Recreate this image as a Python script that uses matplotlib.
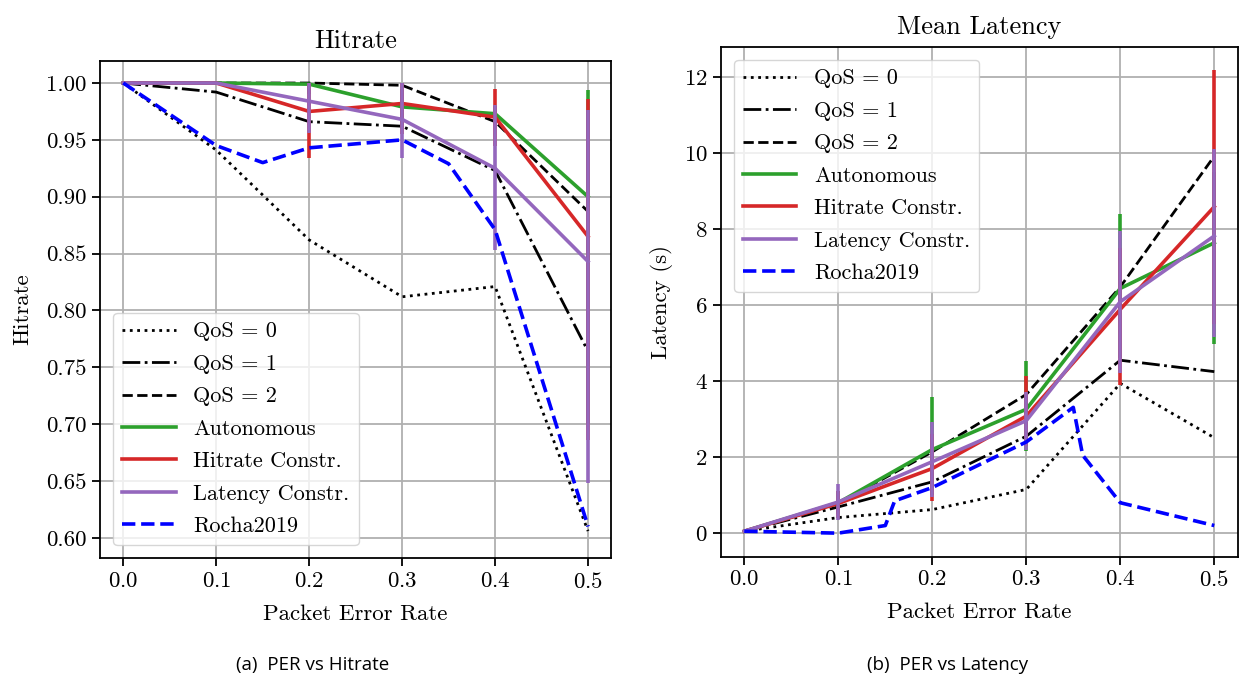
import matplotlib
matplotlib.use("Agg")
import matplotlib.pyplot as plt
import numpy as np

plt.rcParams['font.family'] = 'cmr10'
plt.rcParams['mathtext.fontset'] = 'cm'
plt.rcParams['axes.formatter.use_mathtext'] = True

# packet error rates
per = [0.0, 0.1, 0.2, 0.3, 0.4, 0.5]

# --- hitrate panel ---
hit_qos0 = [1.0, 0.941, 0.862, 0.812, 0.821, 0.606]
hit_qos1 = [1.0, 0.992, 0.966, 0.962, 0.923, 0.764]
hit_qos2 = [1.0, 1.0, 1.0, 0.998, 0.966, 0.887]
hit_auto = [1.0, 1.0, 0.999, 0.979, 0.973, 0.900]
hit_auto_lo = [1.0, 1.0, 0.99, 0.96, 0.965, 0.70]
hit_auto_hi = [1.0, 1.0, 1.0, 0.995, 0.98, 0.994]
hit_hitc = [1.0, 1.0, 0.975, 0.982, 0.970, 0.865]
hit_hitc_lo = [1.0, 1.0, 0.934, 0.955, 0.945, 0.686]
hit_hitc_hi = [1.0, 1.0, 1.0, 1.0, 0.995, 0.986]
hit_latc = [1.0, 1.0, 0.984, 0.968, 0.925, 0.843]
hit_latc_lo = [1.0, 1.0, 0.956, 0.934, 0.853, 0.648]
hit_latc_hi = [1.0, 1.0, 1.0, 1.0, 0.981, 0.976]
rocha_hit_per = [0.0, 0.1, 0.15, 0.2, 0.3, 0.35, 0.4, 0.5]
rocha_hit = [1.0, 0.945, 0.930, 0.943, 0.950, 0.929, 0.871, 0.610]

# --- latency panel ---
lat_qos0 = [0.05, 0.41, 0.62, 1.15, 3.94, 2.51]
lat_qos1 = [0.05, 0.69, 1.35, 2.55, 4.55, 4.25]
lat_qos2 = [0.05, 0.78, 2.14, 3.65, 6.48, 9.92]
lat_auto = [0.05, 0.80, 2.20, 3.26, 6.44, 7.64]
lat_auto_lo = [0.05, 0.5, 1.0, 2.15, 4.6, 4.99]
lat_auto_hi = [0.05, 1.1, 3.59, 4.53, 8.39, 9.5]
lat_hitc = [0.05, 0.78, 1.70, 3.08, 5.89, 8.59]
lat_hitc_lo = [0.05, 0.4, 0.85, 2.3, 3.89, 5.5]
lat_hitc_hi = [0.05, 1.1, 2.6, 4.13, 7.5, 12.2]
lat_latc = [0.05, 0.82, 1.88, 2.96, 6.09, 7.82]
lat_latc_lo = [0.05, 0.34, 0.96, 2.18, 4.22, 5.17]
lat_latc_hi = [0.05, 1.28, 2.93, 3.72, 7.95, 10.1]
rocha_lat_per = [0.0, 0.1, 0.15, 0.16, 0.2, 0.3, 0.35, 0.36, 0.4, 0.5]
rocha_lat = [0.05, 0.0, 0.2, 0.85, 1.20, 2.40, 3.31, 2.05, 0.80, 0.20]


def err(y, lo, hi):
    y, lo, hi = np.array(y), np.array(lo), np.array(hi)
    return [y - lo, hi - y]


def draw(ax, q0, q1, q2, auto, hitc, latc, rx, ry):
    ax.plot(per, q0, ':', color='black', lw=2, label='QoS = 0')
    ax.plot(per, q1, '-.', color='black', lw=2, label='QoS = 1')
    ax.plot(per, q2, '--', color='black', lw=2, label='QoS = 2')
    for (y, lo, hi), c, lab in zip([auto, hitc, latc],
                                   ['tab:green', 'tab:red', 'tab:purple'],
                                   ['Autonomous', 'Hitrate Constr.', 'Latency Constr.']):
        ax.plot(per, y, '-', color=c, lw=2.6, label=lab)
        ax.errorbar(per, y, yerr=err(y, lo, hi), fmt='none', ecolor=c,
                    elinewidth=2.6, capsize=0)
    ax.plot(rx, ry, '--', color='blue', lw=2.6, label='Rocha2019')
    ax.grid(True, color='#b0b0b0', lw=1.3)
    ax.set_xticks(per)
    ax.tick_params(labelsize=16.5, length=6, width=1.3)
    for s in ax.spines.values():
        s.set_linewidth(1.3)
    ax.set_xlabel('Packet Error Rate', fontsize=16.5, labelpad=9)


fig = plt.figure(figsize=(12.46, 6.77), dpi=100)

ax1 = fig.add_axes([0.0803, 0.1753, 0.4103, 0.735])
draw(ax1, hit_qos0, hit_qos1, hit_qos2,
     (hit_auto, hit_auto_lo, hit_auto_hi),
     (hit_hitc, hit_hitc_lo, hit_hitc_hi),
     (hit_latc, hit_latc_lo, hit_latc_hi),
     rocha_hit_per, rocha_hit)
ax1.set_ylim(0.582, 1.0196)
ax1.set_yticks(np.arange(0.60, 1.001, 0.05))
ax1.yaxis.set_major_formatter(matplotlib.ticker.FormatStrFormatter('%.2f'))
ax1.set_ylabel('Hitrate', fontsize=16.5, labelpad=10)
ax1.set_title('Hitrate', fontsize=19, pad=9)
ax1.legend(loc='lower left', fontsize=16, handlelength=2.4, labelspacing=0.58,
           borderaxespad=0.6)

ax2 = fig.add_axes([0.5785, 0.1777, 0.4149, 0.7533])
draw(ax2, lat_qos0, lat_qos1, lat_qos2,
     (lat_auto, lat_auto_lo, lat_auto_hi),
     (lat_hitc, lat_hitc_lo, lat_hitc_hi),
     (lat_latc, lat_latc_lo, lat_latc_hi),
     rocha_lat_per, rocha_lat)
ax2.set_ylim(-0.62, 12.8)
ax2.set_yticks([0, 2, 4, 6, 8, 10, 12])
ax2.set_ylabel('Latency (s)', fontsize=16.5, labelpad=8)
ax2.set_title('Mean Latency', fontsize=19, pad=9)
ax2.legend(loc='upper left', fontsize=16, handlelength=2.4, labelspacing=0.58,
           borderaxespad=0.6)

fig.text(313 / 1246, 1 - 665 / 677, '(a)  PER vs Hitrate', family='Open Sans',
         fontsize=13.5, ha='center', va='center')
fig.text(948 / 1246, 1 - 665 / 677, '(b)  PER vs Latency', family='Open Sans',
         fontsize=13.5, ha='center', va='center')

fig.savefig('out.png', dpi=100)
